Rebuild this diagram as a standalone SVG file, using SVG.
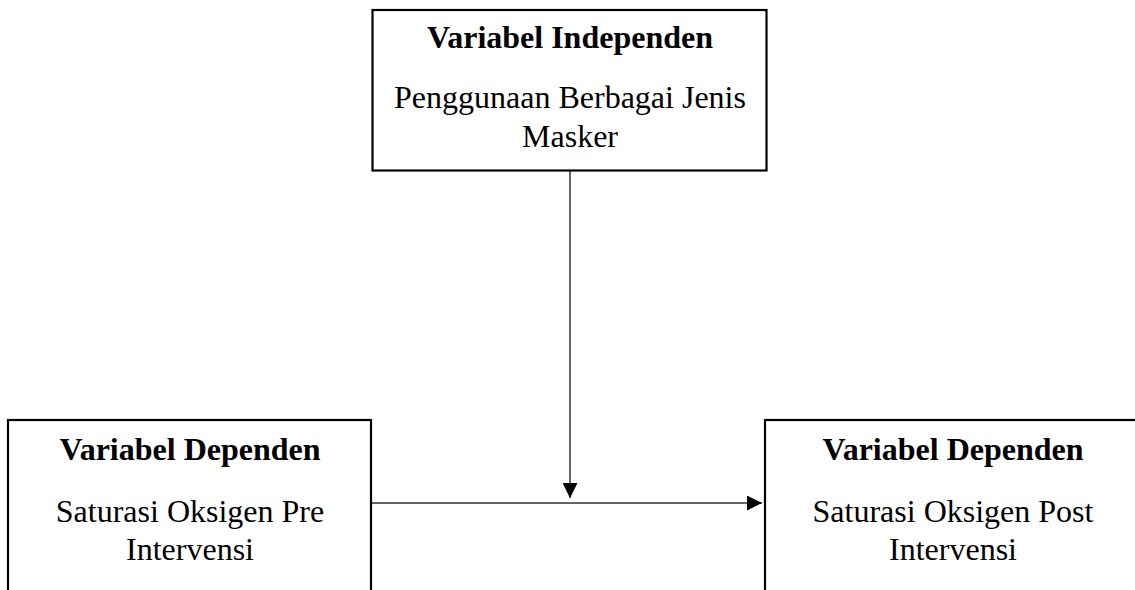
<svg xmlns="http://www.w3.org/2000/svg" width="1135" height="590" viewBox="0 0 1135 590">
<defs>
<style>
.box{fill:#fff;stroke:#000;stroke-width:2.2}
.t{font-family:"Liberation Serif","Times New Roman",serif;font-size:32px;fill:#000;text-anchor:middle}
.b{font-weight:bold}
.c{fill:none;stroke:#333;stroke-width:1.5}
</style>
<marker id="ah" viewBox="0 0 10 10" refX="10" refY="5" markerWidth="15" markerHeight="15" markerUnits="userSpaceOnUse" orient="auto">
<path d="M0,0 L10,5 L0,10 Z" fill="#000"/>
</marker>
</defs>
<rect width="1135" height="590" fill="#fff"/>
<g id="connectors">
<line class="c" x1="570" y1="171" x2="570" y2="498" marker-end="url(#ah)"/>
<line class="c" x1="371" y1="503" x2="762" y2="503" marker-end="url(#ah)"/>
</g>
<g id="independen">
<rect class="box" x="372.5" y="10" width="394" height="160.5"/>
<text class="t b" x="570" y="48">Variabel Independen</text>
<text class="t" x="570" y="108">Penggunaan Berbagai Jenis</text>
<text class="t" x="570" y="147">Masker</text>
</g>
<g id="dependen-pre">
<rect class="box" x="8" y="420" width="363" height="190"/>
<text class="t b" x="190" y="460">Variabel Dependen</text>
<text class="t" x="190" y="522">Saturasi Oksigen Pre</text>
<text class="t" x="190" y="560">Intervensi</text>
</g>
<g id="dependen-post">
<rect class="box" x="765" y="420" width="380" height="190"/>
<text class="t b" x="953" y="460">Variabel Dependen</text>
<text class="t" x="953" y="522">Saturasi Oksigen Post</text>
<text class="t" x="953" y="560">Intervensi</text>
</g>
</svg>
